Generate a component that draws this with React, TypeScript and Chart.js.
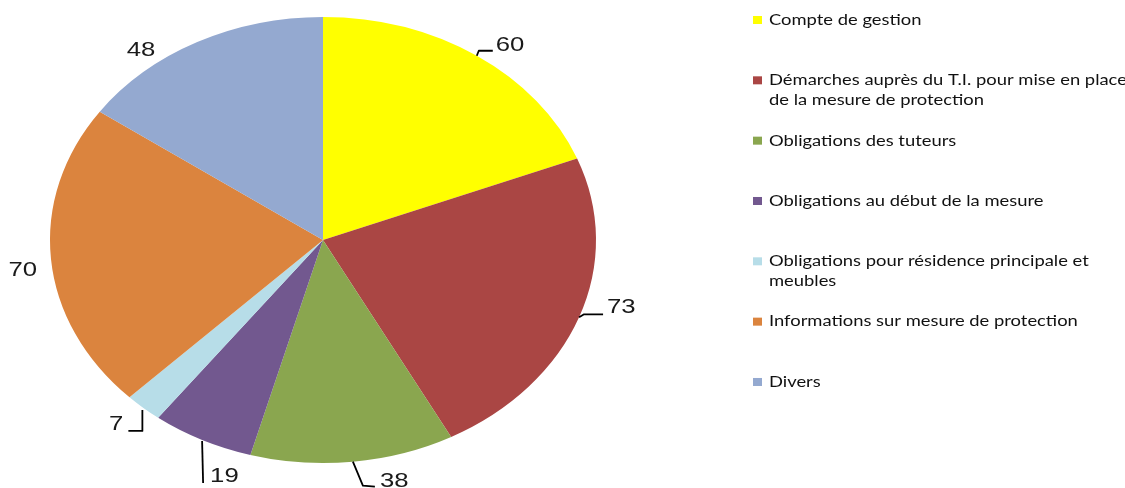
import React, { useEffect, useRef } from "react";
import { Chart, registerables } from "chart.js";

Chart.register(...registerables);

// ---- Data ----
const categories = [
  "Compte de gestion",
  "Démarches auprès du T.I. pour mise en place de la mesure de protection",
  "Obligations des tuteurs",
  "Obligations au début de la mesure",
  "Obligations pour résidence principale et meubles",
  "Informations sur mesure de protection",
  "Divers",
];
const values = [60, 73, 38, 19, 7, 70, 48];
const colors = ["#FFFF00", "#AA4644", "#8AA64F", "#72588F", "#B7DDE8", "#DB843E", "#94A9D0"];
const legendLines = [
  ["Compte de gestion"],
  ["Démarches auprès du T.I. pour mise en place", "de la mesure de protection"],
  ["Obligations des tuteurs"],
  ["Obligations au début de la mesure"],
  ["Obligations pour résidence principale et", "meubles"],
  ["Informations sur mesure de protection"],
  ["Divers"],
];

// ---- Layout / style ----
const W = 1125;
const H = 488;
const STRETCH = 273 / 223; // horizontal stretch of the whole picture
const labelLayout: { leader: number[][]; text: number[]; align: CanvasTextAlign }[] = [
  { leader: [[0, 0], [2, -5], [16, -5]], text: [19, -11], align: "left" },
  { leader: [[0, 0], [5, -3], [24, -3]], text: [28, -10.5], align: "left" },
  { leader: [[0, 0], [10, 24], [22, 25]], text: [27, 20], align: "left" },
  { leader: [[0, 1], [1, 43]], text: [8, 36], align: "left" },
  { leader: [[-1, 2], [-1, 23], [-15, 23]], text: [-20, 16], align: "right" },
  { leader: [], text: [-14, 11], align: "right" },
  { leader: [], text: [-42, 8.5], align: "right" },
];

function drawStretchedText(
  ctx: CanvasRenderingContext2D,
  text: string,
  x: number,
  y: number,
  align: CanvasTextAlign
) {
  ctx.save();
  ctx.translate(x, y);
  ctx.scale(STRETCH, 1);
  ctx.textAlign = align;
  ctx.textBaseline = "middle";
  ctx.fillText(text, 0, 0);
  ctx.restore();
}

const ellipsePlugin = {
  id: "ellipsePie",
  beforeDatasetsDraw(chart: any) {
    const arc = chart.getDatasetMeta(0).data[0];
    if (!arc) return;
    const ctx = chart.ctx;
    ctx.save();
    ctx.translate(arc.x, arc.y);
    ctx.scale(STRETCH, 1);
    ctx.translate(-arc.x, -arc.y);
  },
  afterDatasetsDraw(chart: any) {
    const ctx: CanvasRenderingContext2D = chart.ctx;
    ctx.restore();
    const arcs = chart.getDatasetMeta(0).data;
    // data labels with leader lines
    arcs.forEach((arc: any, i: number) => {
      const mid = (arc.startAngle + arc.endAngle) / 2;
      const R = arc.outerRadius;
      const ex = arc.x + STRETCH * R * Math.cos(mid);
      const ey = arc.y + R * Math.sin(mid);
      const lay = labelLayout[i];
      if (lay.leader.length > 1) {
        ctx.save();
        ctx.strokeStyle = "#000";
        ctx.lineWidth = 1.8;
        ctx.lineJoin = "round";
        ctx.beginPath();
        lay.leader.forEach((p, k) => {
          if (k === 0) ctx.moveTo(ex + p[0], ey + p[1]);
          else ctx.lineTo(ex + p[0], ey + p[1]);
        });
        ctx.stroke();
        ctx.restore();
      }
      ctx.save();
      ctx.fillStyle = "#1a1a1a";
      ctx.font = "21px 'Liberation Sans', Arial, sans-serif";
      drawStretchedText(ctx, String(values[i]), ex + lay.text[0], ey + lay.text[1], lay.align);
      ctx.restore();
    });
    // legend
    ctx.save();
    ctx.font = "15px Lato, 'Open Sans', sans-serif";
    legendLines.forEach((lines, i) => {
      const y = 20 + 60.33 * i;
      ctx.fillStyle = colors[i];
      ctx.fillRect(753, y - 4, 9, 8);
      ctx.fillStyle = "#111";
      lines.forEach((t, j) => drawStretchedText(ctx, t, 769, y + 20 * j, "left"));
    });
    ctx.restore();
  },
};

export default function App() {
  const ref = useRef<HTMLCanvasElement>(null);
  useEffect(() => {
    document.body.style.margin = "0";
    const canvas = ref.current!;
    const chart = new Chart(canvas, {
      type: "pie",
      data: {
        labels: categories,
        datasets: [
          {
            data: values,
            backgroundColor: colors,
            borderWidth: 0,
            clip: false,
          } as any,
        ],
      },
      options: {
        responsive: false,
        animation: false,
        devicePixelRatio: 1,
        events: [],
        layout: { padding: { left: 100, right: W - 546, top: 17, bottom: H - 463 } },
        plugins: {
          legend: { display: false },
          tooltip: { enabled: false },
        },
      },
      plugins: [ellipsePlugin],
    });
    return () => chart.destroy();
  }, []);
  return (
    <div style={{ width: W, height: H, position: "relative", background: "#fff" }}>
      <canvas ref={ref} width={W} height={H} style={{ display: "block" }} />
    </div>
  );
}
